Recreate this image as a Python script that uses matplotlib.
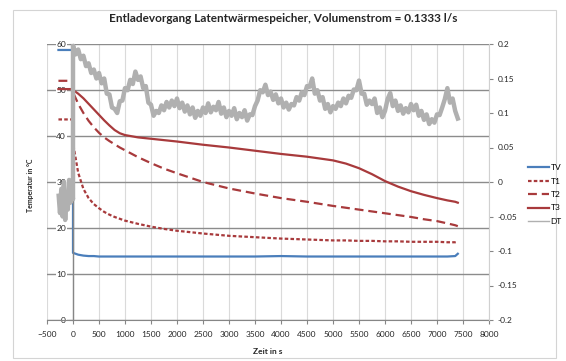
import numpy as np
import matplotlib
matplotlib.use('Agg')
import matplotlib.pyplot as plt
from matplotlib.lines import Line2D
from matplotlib.patches import Rectangle

plt.rcParams['font.family'] = ['Lato', 'DejaVu Sans']

# sample times of the temperature series (s); 0 appears twice for the jump at start
t = [-280, 0, 0, 100, 200, 300, 400, 500, 600, 700, 800, 900, 1000, 1250, 1500,
     1750, 2000, 2500, 3000, 3500, 4000, 4500, 5000, 5250, 5500, 5750, 6000,
     6250, 6500, 6750, 7000, 7200, 7350, 7400]

tv = [58.7, 58.7, 14.6, 14.2, 14.0, 13.9, 13.9, 13.8, 13.8, 13.8, 13.8, 13.8, 13.8,
      13.8, 13.8, 13.8, 13.8, 13.8, 13.8, 13.8, 13.9, 13.8, 13.8, 13.8, 13.8, 13.8,
      13.8, 13.8, 13.8, 13.8, 13.8, 13.8, 13.9, 14.4]
t1 = [43.6, 43.6, 38.5, 32.0, 28.5, 26.5, 25.2, 24.3, 23.5, 22.9, 22.4, 22.0, 21.6,
      20.9, 20.3, 19.8, 19.4, 18.8, 18.3, 18.0, 17.7, 17.5, 17.3, 17.3, 17.2, 17.2,
      17.1, 17.1, 17.0, 17.0, 17.0, 16.9, 16.9, 17.0]
t2 = [52.0, 52.0, 49.5, 47.0, 45.0, 43.3, 41.9, 40.7, 39.7, 38.9, 38.2, 37.5, 36.9,
      35.4, 34.1, 32.9, 31.9, 30.0, 28.6, 27.5, 26.5, 25.7, 24.8, 24.4, 24.0, 23.6,
      23.2, 22.8, 22.4, 21.9, 21.5, 21.0, 20.6, 20.4]
t3 = [50.2, 50.2, 50.0, 49.2, 48.2, 47.0, 45.8, 44.6, 43.4, 42.3, 41.3, 40.6, 40.2,
      39.7, 39.4, 39.1, 38.8, 38.1, 37.5, 36.8, 36.1, 35.5, 34.7, 34.0, 33.0, 31.7,
      30.2, 29.0, 28.0, 27.2, 26.5, 26.0, 25.7, 25.5]

# DT (secondary axis): before start every 25 s from -275, after start every 50 s from 0
dt_pre = [-0.02, -0.045, -0.01, -0.05, 0.0, -0.055, -0.015, -0.04, 0.003, -0.03,
          -0.01, -0.025]
dt_post = [
    0.198, 0.185, 0.192, 0.178, 0.183, 0.168, 0.172, 0.158, 0.163, 0.150,
    0.158, 0.143, 0.150, 0.128, 0.127, 0.108, 0.106, 0.100, 0.117, 0.118,
    0.136, 0.133, 0.148, 0.142, 0.160, 0.148, 0.153, 0.136, 0.139, 0.115,
    0.112, 0.096, 0.103, 0.100, 0.111, 0.104, 0.116, 0.108, 0.118, 0.110,
    0.121, 0.107, 0.115, 0.102, 0.111, 0.098, 0.108, 0.093, 0.103, 0.096,
    0.108, 0.100, 0.114, 0.101, 0.109, 0.104, 0.116, 0.099, 0.108, 0.094,
    0.103, 0.096, 0.107, 0.091, 0.100, 0.094, 0.104, 0.089, 0.098, 0.097,
    0.110, 0.118, 0.133, 0.130, 0.141, 0.126, 0.131, 0.119, 0.127, 0.114,
    0.121, 0.108, 0.115, 0.105, 0.113, 0.111, 0.123, 0.118, 0.130, 0.126,
    0.139, 0.138, 0.150, 0.128, 0.133, 0.118, 0.123, 0.106, 0.113, 0.101,
    0.110, 0.106, 0.115, 0.110, 0.121, 0.114, 0.125, 0.122, 0.134, 0.133,
    0.147, 0.128, 0.128, 0.112, 0.118, 0.113, 0.121, 0.100, 0.108, 0.094,
    0.103, 0.120, 0.129, 0.110, 0.118, 0.103, 0.111, 0.099, 0.107, 0.101,
    0.113, 0.104, 0.112, 0.096, 0.103, 0.090, 0.098, 0.084, 0.091, 0.086,
    0.098, 0.097, 0.108, 0.120, 0.136, 0.115, 0.121, 0.103, 0.092,
]
dt_time = list(-275 + 25 * np.arange(len(dt_pre))) + list(50 * np.arange(len(dt_post)))
dt = dt_pre + dt_post

x_ticks = list(range(-500, 8001, 500))
y_ticks = list(range(0, 61, 10))
y2_ticks = [-0.2, -0.15, -0.1, -0.05, 0, 0.05, 0.1, 0.15, 0.2]
y2_labels = ['-0.2', '-0.15', '-0.1', '-0.05', '0', '0.05', '0.1', '0.15', '0.2']

W, H = 566, 361
fig = plt.figure(figsize=(W / 100, H / 100), dpi=100)
fig.patches.append(Rectangle((13 / W, 3 / H), 543 / W, 348 / H, transform=fig.transFigure,
                             fill=False, edgecolor='#d4d4d4', lw=0.8))
ax = fig.add_axes([47 / W, 1 - 320 / H, 442 / W, 276 / H])
ax2 = ax.twinx()

red = '#a83a3c'
gray = '#b0b0b0'
ax.plot(t, tv, color='#4a7ebb', lw=1.6, label='TV')
ax.plot(t, t1, color=red, lw=1.6, dashes=(1.6, 1.0), label='T1')
ax.plot(t, t2, color=red, lw=1.6, dashes=(4.0, 2.2), label='T2')
ax.plot(t, t3, color=red, lw=1.6, label='T3')
ax2.plot(dt_time, dt, color=gray, lw=3.2, solid_joinstyle='round')

ax.set_xlim(-500, 8000)
ax.set_ylim(0, 60)
ax2.set_ylim(-0.2, 0.2)
ax.set_xticks(x_ticks)
ax.set_yticks(y_ticks)
ax2.set_yticks(y2_ticks)
ax2.set_yticklabels(y2_labels)

ax.set_axisbelow(True)
ax.grid(axis='x', color='#dadada', lw=0.8)
ax.grid(axis='y', color='#8c8c8c', lw=1.0)

for a in (ax, ax2):
    for s in a.spines.values():
        s.set_visible(False)
ax.spines['left'].set_visible(True)
ax.spines['left'].set_position(('data', 0))
ax.spines['left'].set_color('#868686')
ax.spines['left'].set_linewidth(1.0)
ax.spines['bottom'].set_visible(True)
ax.spines['bottom'].set_color('#868686')
ax2.spines['right'].set_visible(True)
ax2.spines['right'].set_color('#d0d0d0')

ax.tick_params(axis='both', labelsize=6, colors='#868686', labelcolor='#262626',
               length=3, width=0.8)
ax.tick_params(axis='x', pad=5)
ax.tick_params(axis='y', pad=2)
ax2.tick_params(axis='y', labelsize=6, colors='#868686', labelcolor='#262626',
                length=3, width=0.8, pad=3)
for lbl in ax.get_yticklabels():
    lbl.set_bbox(dict(facecolor='white', edgecolor='none', pad=0.4))

fig.text(283 / W, 1 - 19 / H,
         'Entladevorgang Latentwärmespeicher, Volumenstrom = 0.1333 l/s',
         fontsize=8.5, fontweight='bold', color='#262626', ha='center', va='center')
fig.text(268 / W, 1 - 352 / H, 'Zeit in s', fontsize=6, fontweight='bold',
         color='#262626', ha='center', va='center')
fig.text(31 / W, 1 - 185 / H, 'Temperatur in °C', rotation=90, fontsize=5,
         fontweight='bold', color='#262626', ha='center', va='center')

h1, l1 = ax.get_legend_handles_labels()
h1.append(Line2D([], [], color=gray, lw=1.0))
l1.append('DT')
fig.legend(h1, l1, loc='upper left', bbox_to_anchor=(528 / W, 1 - 164 / H),
           frameon=False, fontsize=6, handlelength=2.5, handletextpad=0.2,
           labelspacing=0.78, borderaxespad=0, borderpad=0)

fig.savefig('out.png', dpi=100)
